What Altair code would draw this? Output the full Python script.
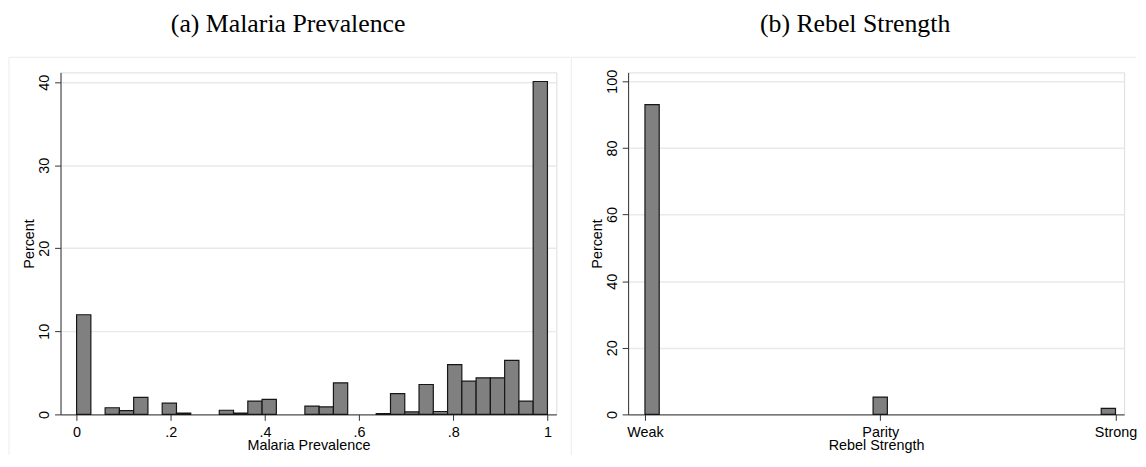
import altair as alt
import pandas as pd

# ---------------- data ----------------
NBINS = 33  # histogram bins over [0, 1]
malaria_bin_index = [0, 2, 3, 4, 6, 7, 10, 11, 12, 13, 16, 17, 18, 21, 22, 23,
                     24, 25, 26, 27, 28, 29, 30, 31, 32]
malaria_percent = [12.0, 0.8, 0.45, 2.05, 1.35, 0.15, 0.5, 0.15, 1.6, 1.8, 1.0,
                   0.9, 3.8, 0.1, 2.5, 0.3, 3.6, 0.35, 6.0, 4.0, 4.4, 4.4, 6.5,
                   1.6, 40.1]
malaria_ticks = [0, 0.2, 0.4, 0.6, 0.8, 1]
percent_ticks_a = [0, 10, 20, 30, 40]

strength_labels = ["Weak", "Parity", "Strong"]
strength_values = [1, 2, 3]
strength_bin_lo = [1.0, 2 - 1 / NBINS * 1, 3 - 2 / NBINS]
strength_bin_hi = [1 + 2 / NBINS, 2 + 1 / NBINS, 3.0]
strength_percent = [93.0, 5.2, 1.8]
percent_ticks_b = [0, 20, 40, 60, 80, 100]

# ---------------- styles ----------------
SANS = "Liberation Sans"
SERIF = "Liberation Serif"
FS = 14.5
AXIS_COL = "#333333"
GRID_COL = "#e9e9e9"
BAR_FILL = "#808080"
BAR_STROKE = "#161616"
BORDER_COL = "#ececec"
H = 345

df_a = pd.DataFrame({
    "lo": [i / NBINS for i in malaria_bin_index],
    "hi": [(i + 1) / NBINS for i in malaria_bin_index],
    "pct": malaria_percent,
    "base": [0.0] * len(malaria_percent),
})
df_b = pd.DataFrame({
    "lo": strength_bin_lo,
    "hi": strength_bin_hi,
    "pct": strength_percent,
    "base": [0.0] * len(strength_percent),
})
one = pd.DataFrame({"k": [0]})


def x_axis(values, label_expr, title):
    return alt.Axis(values=values, labelExpr=label_expr, title=title, grid=False,
                    tickSize=6, tickColor=AXIS_COL, domainColor=AXIS_COL,
                    labelFont=SANS, labelFontSize=FS, labelColor="black",
                    labelBaseline="alphabetic", labelPadding=16.4,
                    labelFlush=False, labelOverlap=False,
                    titleFont=SANS, titleFontSize=FS, titleFontWeight="normal",
                    titleColor="black", titleBaseline="alphabetic", titleY=35.7)


def y_axis(values):
    return alt.Axis(values=values, title="Percent", grid=True, gridColor=GRID_COL,
                    gridWidth=1.5, tickSize=6, tickColor=AXIS_COL,
                    domainColor=AXIS_COL, labelFont=SANS, labelFontSize=FS,
                    labelColor="black", labelAngle=270, labelAlign="center",
                    labelBaseline="alphabetic", labelPadding=6,
                    labelFlush=False, labelOverlap=False,
                    titleFont=SANS, titleFontSize=FS, titleFontWeight="normal",
                    titleColor="black", titleAngle=270, titleAlign="center",
                    titleBaseline="alphabetic", titleX=-27, titleY=H / 2)


def borders(left, right, top, bottom):
    top_rule = alt.Chart(one).mark_rule(color=BORDER_COL, strokeWidth=1).encode(
        x=alt.value(left), x2=alt.value(right), y=alt.value(top))
    left_rule = alt.Chart(one).mark_rule(color=BORDER_COL, strokeWidth=1).encode(
        x=alt.value(left), y=alt.value(top), y2=alt.value(bottom))
    return top_rule + left_rule


def panel_title(text, dx):
    return alt.TitleParams(text, font=SERIF, fontSize=26, fontWeight="normal",
                           color="black", anchor="middle", frame="group", dx=dx,
                           offset=20)


# ---------------- panel (a) ----------------
W_A = 500.2
bars_a = alt.Chart(df_a).mark_rect(fill=BAR_FILL, stroke=BAR_STROKE, strokeWidth=1.2).encode(
    x=alt.X("lo:Q", scale=alt.Scale(domain=[-0.0341, 1.0189], nice=False, zero=False),
            axis=x_axis(malaria_ticks, "replace(format(datum.value, '.1~f'), '0.', '.')",
                        "Malaria Prevalence")),
    x2="hi:Q",
    y=alt.Y("pct:Q", scale=alt.Scale(domain=[0, 41.19], nice=False, zero=True),
            axis=y_axis(percent_ticks_a)),
    y2="base:Q",
)
panel_a = alt.layer(bars_a, borders(-52, 514.5, -15.3, 386)).properties(
    width=W_A, height=H, title=panel_title("(a) Malaria Prevalence", -20.5))

# ---------------- panel (b) ----------------
W_B = 500.4
label_list = "[" + ",".join("'" + s + "'" for s in strength_labels) + "]"
bars_b = alt.Chart(df_b).mark_rect(fill=BAR_FILL, stroke=BAR_STROKE, strokeWidth=1.2).encode(
    x=alt.X("lo:Q", scale=alt.Scale(domain=[0.9284, 3.0367], nice=False, zero=False),
            axis=x_axis(strength_values, label_list + "[datum.value - 1]",
                        "Rebel Strength")),
    x2="hi:Q",
    y=alt.Y("pct:Q", scale=alt.Scale(domain=[0, 102.68], nice=False, zero=True),
            axis=y_axis(percent_ticks_b)),
    y2="base:Q",
)
panel_b = alt.layer(bars_b, borders(-57.3, 512.5, -15.3, 386)).properties(
    width=W_B, height=H, title=panel_title("(b) Rebel Strength", -21.2))

chart = alt.hconcat(panel_a, panel_b, spacing=71.6, bounds="flush").properties(
    padding=0
).configure_view(stroke=None).configure(background="white")

chart.save("out.html", embed_options={"renderer": "svg", "actions": False})
